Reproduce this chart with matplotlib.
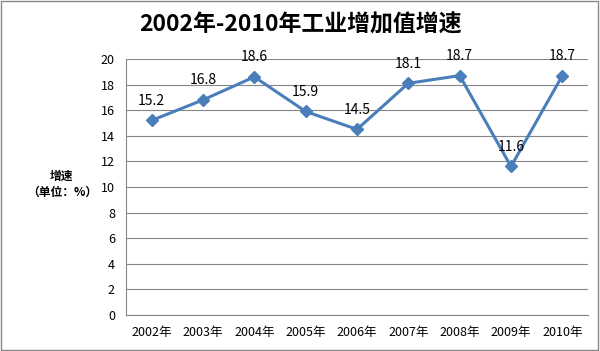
import matplotlib
matplotlib.use("Agg")
import matplotlib.pyplot as plt
from matplotlib.patches import Rectangle

plt.rcParams['font.family'] = ['Noto Sans CJK SC', 'DejaVu Sans']

years = ["2002年", "2003年", "2004年", "2005年", "2006年", "2007年", "2008年", "2009年", "2010年"]
growth = [15.2, 16.8, 18.6, 15.9, 14.5, 18.1, 18.7, 11.6, 18.7]
yticks = [0, 2, 4, 6, 8, 10, 12, 14, 16, 18, 20]

fig = plt.figure(figsize=(6.0, 3.51), dpi=100)
ax = fig.add_axes([0.21, 0.1026, 0.77, 0.7294])

x = list(range(len(years)))
ax.plot(x, growth, color='#4A7EBB', lw=2.2, marker='D', ms=6.5,
        markerfacecolor='#4A7EBB', markeredgecolor='#4A7EBB', zorder=3)
for xi, v in zip(x, growth):
    ax.annotate(f"{v}", (xi, v), xytext=(0, 9), textcoords='offset points',
                ha='center', va='bottom', fontsize=10, color='#000000')

ax.set_xlim(-0.5, len(years) - 0.5)
ax.set_ylim(0, 20)
ax.set_yticks(yticks)
ax.set_yticklabels([str(t) for t in yticks], fontsize=9)
ax.set_xticks(x)
ax.set_xticklabels(years, fontsize=9)
ax.tick_params(axis='both', length=0, pad=8)
ax.yaxis.grid(True, color='#868686', lw=0.8)
ax.set_axisbelow(True)
for s in ['top', 'right']:
    ax.spines[s].set_visible(False)
ax.spines['left'].set_color('#868686')
ax.spines['bottom'].set_color('#868686')

fig.text(0.5, 0.928, "2002年-2010年工业增加值增速", ha='center', va='center',
         fontsize=16.5, fontweight='bold')
fig.text(0.103, 0.475, "增速\n（单位：%）", ha='center', va='center',
         fontsize=8.5, fontweight='bold', linespacing=1.3)

fig.patches.append(Rectangle((0.002, 0.003), 0.995, 0.993, transform=fig.transFigure,
                             fill=False, edgecolor='#868686', lw=1.0))

fig.savefig("out.png", dpi=100)
